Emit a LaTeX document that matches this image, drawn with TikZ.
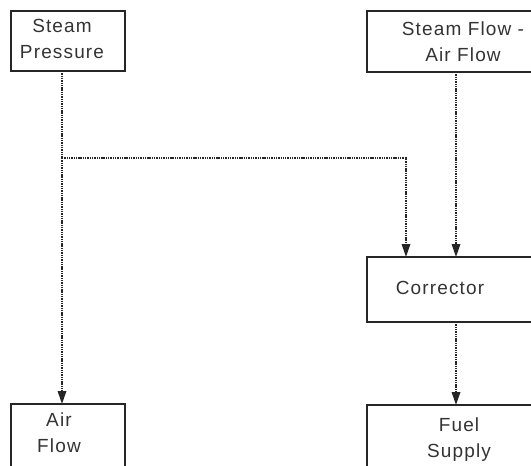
\documentclass[tikz,border=0pt]{standalone}
\usepackage{fontspec}
\setmainfont{Liberation Sans}[LetterSpace=6]
\usetikzlibrary{arrows.meta}
\newcommand{\lblfont}{\fontsize{19}{26}\selectfont}
\begin{document}
\begin{tikzpicture}[x=1pt,y=-1pt,
  box/.style={draw=black!85,line width=1.1pt},
  lbl/.style={font=\lblfont,text=black!80,align=center,inner sep=0pt},
  conn/.style={draw=black!85,line width=1.7pt,dash pattern=on 1.4pt off 0.9pt,
    -{Triangle[length=13pt,width=8.5pt]}},
  link/.style={draw=black!85,line width=1.7pt,dash pattern=on 1.4pt off 0.9pt}]
\useasboundingbox (0,0) rectangle (531,466);
\begin{scope}
\clip (0,0) rectangle (531,466);
\draw[box] (11,11) rectangle (125,71);
\node[lbl] (sp) at (62,39) {Steam\\Pressure};
\coordinate (spb) at (62,71);
\draw[box] (367,11) rectangle (560,72);
\node[lbl] (sf) at (463,41.5) {Steam Flow -\\Air Flow};
\coordinate (sfb) at (456,72);
\draw[box] (367,257) rectangle (560,322);
\node[lbl] (cor) at (440,288) {Corrector};
\coordinate (cort1) at (406,257);
\coordinate (cort2) at (456,257);
\coordinate (corb) at (456,322);
\draw[box] (11,404) rectangle (125,480);
\node[lbl] (af) at (59,433) {Air\\Flow};
\coordinate (aft) at (62,404);
\draw[box] (367,405) rectangle (560,480);
\node[lbl] (fs) at (459,440) {Fuel\\Supply};
\coordinate (fst) at (456,405);
\coordinate (j) at (62,158);
\end{scope}
\draw[link] (spb) -- (j);
\draw[conn] (j) -- (aft);
\draw[conn] (j) -| (cort1);
\draw[conn] (sfb) -- (cort2);
\draw[conn] (corb) -- (fst);
\end{tikzpicture}
\end{document}
